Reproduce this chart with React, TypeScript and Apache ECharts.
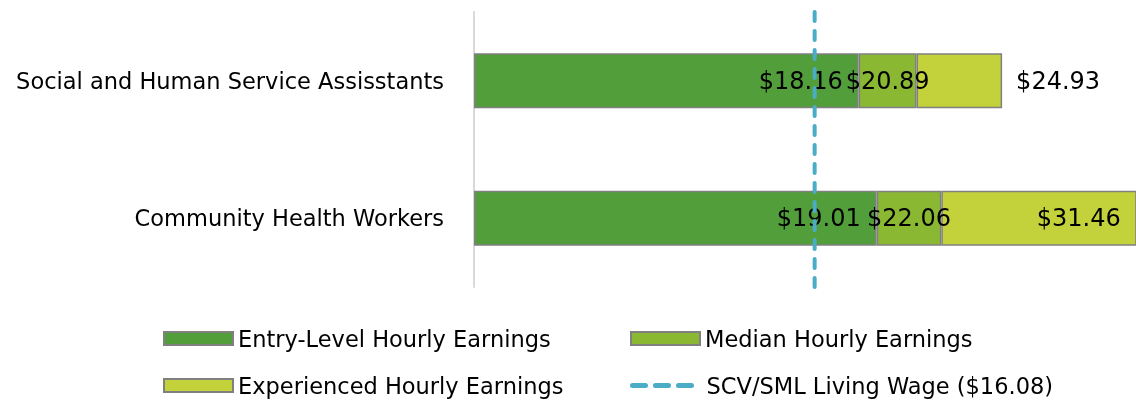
import React, { useEffect, useRef } from "react";
import * as echarts from "echarts";

const categories = ["Social and Human Service Assisstants", "Community Health Workers"];
const entryLevel = [18.16, 19.01];
const median = [20.89, 22.06];
const experienced = [24.93, 31.46];
const livingWage = 16.08;

const seriesNames = [
  "Entry-Level Hourly Earnings",
  "Median Hourly Earnings",
  "Experienced Hourly Earnings",
  "SCV/SML Living Wage ($16.08)",
];

const FONT = "DejaVu Sans";

export default function App() {
  const ref = useRef<HTMLDivElement>(null);
  useEffect(() => {
    if (!ref.current) return;
    const chart = echarts.init(ref.current, undefined, { renderer: "svg" });
    const medianInc = median.map((v, i) => +(v - entryLevel[i]).toFixed(2));
    const expInc = experienced.map((v, i) => +(v - median[i]).toFixed(2));
    const fmt = (arr: number[]) => (p: any) => "$" + arr[p.dataIndex].toFixed(2);
    const labelBase = { show: true, color: "#000", fontSize: 24, fontFamily: FONT };
    const border = { borderColor: "#808080", borderWidth: 1.5 };
    const legendCommon = {
      itemWidth: 69,
      itemHeight: 13,
      itemGap: 6,
      icon: "rect",
      textStyle: { fontSize: 22.5, lineHeight: 22, fontFamily: FONT, color: "#000" },
      padding: 0,
    };
    chart.setOption({
      animation: false,
      textStyle: { fontFamily: FONT },
      grid: { left: 474, right: 0, top: 12, height: 275, containLabel: false },
      xAxis: {
        type: "value",
        min: 0,
        max: 31.25,
        show: false,
        splitLine: { show: false },
      },
      yAxis: [
        {
          type: "category",
          data: categories,
          inverse: true,
          axisLine: { show: true, lineStyle: { color: "#d9d9d9", width: 2 } },
          axisTick: { show: false },
          axisLabel: { color: "#000", fontSize: 22.5, fontFamily: FONT, margin: 30 },
        },
        { type: "value", min: 0, max: 1, show: false },
      ],
      legend: [
        { ...legendCommon, left: 163, top: 327, data: [seriesNames[0]] },
        { ...legendCommon, left: 630, top: 327, data: [seriesNames[1]] },
        { ...legendCommon, left: 163, top: 374, data: [seriesNames[2]] },
        {
          ...legendCommon,
          icon: undefined,
          left: 630,
          top: 374,
          data: [seriesNames[3]],
          itemStyle: { opacity: 0 },
          lineStyle: { width: 5, type: [13, 10], cap: "round", color: "#4BACC6" },
        },
      ],
      series: [
        {
          name: seriesNames[0],
          type: "bar",
          stack: "wage",
          barWidth: 55,
          data: entryLevel,
          itemStyle: { color: "#529E3A", ...border },
          label: { ...labelBase, position: "insideRight", distance: 16, formatter: fmt(entryLevel) },
        },
        {
          name: seriesNames[1],
          type: "bar",
          stack: "wage",
          barWidth: 55,
          data: medianInc,
          itemStyle: { color: "#8AB833", ...border },
          label: { ...labelBase, position: "inside", formatter: fmt(median) },
        },
        {
          name: seriesNames[2],
          type: "bar",
          stack: "wage",
          barWidth: 55,
          data: expInc.map((v, i) => ({
            value: v,
            label: i === 0 ? { position: "right", distance: 14 } : { position: "insideRight", distance: 16 },
          })),
          itemStyle: { color: "#C3D13A", ...border },
          label: { ...labelBase, formatter: fmt(experienced) },
        },
        {
          name: seriesNames[3],
          type: "line",
          yAxisIndex: 1,
          symbol: "none",
          data: [
            [livingWage, 0],
            [livingWage, 1],
          ],
          lineStyle: { color: "#4BACC6", width: 4, type: [9, 10], cap: "round" },
          itemStyle: { color: "#4BACC6" },
          z: 5,
        },
      ],
    });
    return () => chart.dispose();
  }, []);
  return <div ref={ref} style={{ position: "fixed", left: 0, top: 0, width: 1136, height: 400 }} />;
}
